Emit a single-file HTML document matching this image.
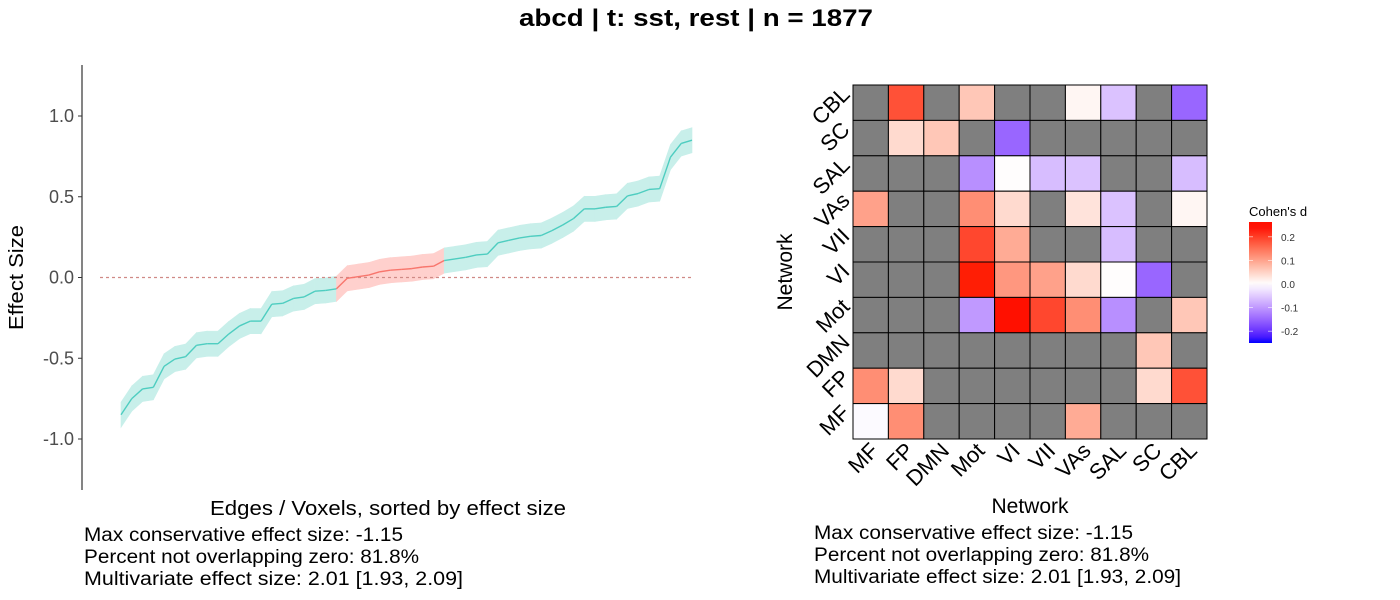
<!DOCTYPE html>
<html><head><meta charset="utf-8"><style>
body{margin:0;background:#fff}
svg{display:block;font-family:"Liberation Sans",sans-serif}
</style></head><body>
<svg id="s" width="1400" height="600" viewBox="0 0 1400 600">
<text x="519" y="26" font-size="24" font-weight="bold" textLength="354" lengthAdjust="spacingAndGlyphs">abcd | t: sst, rest | n = 1877</text>
<g id="lineplot"></g>
<g id="heat"></g>
</svg>
<script>
const effectValues=[-0.85,-0.75,-0.69,-0.68,-0.55,-0.505,-0.49,-0.42,-0.41,-0.41,-0.35,-0.30,-0.27,-0.27,-0.165,-0.16,-0.13,-0.12,-0.085,-0.08,-0.07,-0.005,0.005,0.015,0.035,0.045,0.05,0.055,0.065,0.07,0.105,0.115,0.125,0.14,0.145,0.215,0.23,0.245,0.255,0.26,0.29,0.325,0.365,0.425,0.425,0.435,0.44,0.505,0.52,0.545,0.55,0.745,0.83,0.85];
const ciHalfWidth=0.078;
const yTicks=[1.0,0.5,0.0,-0.5,-1.0];
const yTickLabels=["1.0","0.5","0.0","-0.5","-1.0"];
const networks=["MF","FP","DMN","Mot","VI","VII","VAs","SAL","SC","CBL"];
const rowCBL=[null,0.18,null,0.06,null,null,0.01,-0.06,null,-0.15];
const rowSC=[null,0.04,0.06,null,-0.15,null,null,null,null,null];
const rowSAL=[null,null,null,-0.11,0.002,-0.065,-0.06,null,null,-0.065];
const rowVAs=[0.1,null,null,0.12,0.04,null,0.03,-0.06,null,0.01];
const rowVII=[null,null,null,0.19,0.09,null,null,-0.065,null,null];
const rowVI=[null,null,null,0.24,0.11,0.10,0.04,0.002,-0.15,null];
const rowMot=[null,null,null,-0.1,0.25,0.19,0.12,-0.11,null,0.06];
const rowDMN=[null,null,null,null,null,null,null,null,0.06,null];
const rowFP=[0.12,0.04,null,null,null,null,null,null,0.04,0.18];
const rowMF=[-0.005,0.12,null,null,null,null,0.09,null,null,null];
const legendTicks=[0.2,0.1,0.0,-0.1,-0.2];
const legendLabels=["0.2","0.1","0.0","-0.1","-0.2"];
const statLines=["Max conservative effect size: -1.15","Percent not overlapping zero: 81.8%","Multivariate effect size: 2.01 [1.93, 2.09]"];
const statWidthsLeft=[319,335,379];
const statWidthsRight=[319,335,367];

const NS="http://www.w3.org/2000/svg";
function mk(tag,attrs,parent,txt){const e=document.createElementNS(NS,tag);for(const k in attrs)e.setAttribute(k,attrs[k]);if(txt!==undefined)e.textContent=txt;parent.appendChild(e);return e;}

const L=document.getElementById('lineplot');
const yS=v=>277.5-v*161.5;
const xS=i=>121+i*(571/(effectValues.length-1));
let e;
e=mk('line',{x1:82,y1:65,x2:82,y2:490,stroke:'#333','stroke-width':1.2},L);

yTicks.forEach((t,i)=>{
 e=mk('line',{x1:78,x2:82,y1:yS(t),y2:yS(t),stroke:'#333','stroke-width':1},L);
 
 e=mk('text',{x:74,y:yS(t)+6,'text-anchor':'end','font-size':18,fill:'#4d4d4d'},L,yTickLabels[i]);
 
});
e=mk('text',{x:0,y:0,transform:'translate(23,330) rotate(-90)','font-size':20,textLength:105,lengthAdjust:'spacingAndGlyphs'},L,'Effect Size');

e=mk('text',{x:210,y:515,'font-size':20,textLength:356,lengthAdjust:'spacingAndGlyphs'},L,'Edges / Voxels, sorted by effect size');

const sig=effectValues.map(v=>(v-ciHalfWidth>0)||(v+ciHalfWidth<0));
for(let i=0;i<effectValues.length-1;i++){
 const red=!sig[i];
 const fill=red?'#ffd0cd':'#c8efea';
 const a=effectValues[i],b=effectValues[i+1];
 e=mk('polygon',{points:`${xS(i)},${yS(a+ciHalfWidth)} ${xS(i+1)},${yS(b+ciHalfWidth)} ${xS(i+1)},${yS(b-ciHalfWidth)} ${xS(i)},${yS(a-ciHalfWidth)}`,fill:fill,stroke:fill,'stroke-width':0.6},L);
 
}
e=mk('line',{x1:100,x2:692,y1:yS(0),y2:yS(0),stroke:'#d08a86','stroke-width':1.3,'stroke-dasharray':'3,3'},L);

for(let i=0;i<effectValues.length-1;i++){
 const red=!sig[i];
 e=mk('line',{x1:xS(i),y1:yS(effectValues[i]),x2:xS(i+1),y2:yS(effectValues[i+1]),stroke:red?'#f8766d':'#4ecdc0','stroke-width':1.4},L);
 
}
statLines.forEach((s,i)=>{e=mk('text',{x:84,y:541+i*22,'font-size':19,textLength:statWidthsLeft[i],lengthAdjust:'spacingAndGlyphs'},L,s);});

const H=document.getElementById('heat');
const rows=[rowCBL,rowSC,rowSAL,rowVAs,rowVII,rowVI,rowMot,rowDMN,rowFP,rowMF];
const rowNames=networks.slice().reverse();
const gx0=853,gy0=85,cw=35.4,ch=35.4;
function col(v){
 if(v===null)return '#7f7f7f';
 let t=Math.max(-1,Math.min(1,v/0.25));
 if(t>=0){return `rgb(255,${Math.round(255*Math.pow(1-t,0.9)+(t>0.95?16:0))},${Math.round(255*Math.pow(1-t,1.2))})`;}
 t=-t;return `rgb(${Math.round(255*Math.pow(1-t,0.56))},${Math.round(255*(1-t))},255)`;
}
rows.forEach((r,ri)=>r.forEach((v,ci)=>{
 e=mk('rect',{x:gx0+ci*cw,y:gy0+ri*ch,width:cw,height:ch,fill:col(v),stroke:'#000','stroke-width':1},H);
 
}));
networks.forEach((n,i)=>{
 const cx=gx0+(i+0.5)*cw+9;
 e=mk('text',{x:0,y:0,transform:`translate(${cx},452) rotate(-45)`,'text-anchor':'end','font-size':22},H,n);
 
});
rowNames.forEach((n,i)=>{
 const cy=gy0+(i+0.5)*ch-7;
 e=mk('text',{x:0,y:0,transform:`translate(851,${cy}) rotate(-45)`,'text-anchor':'end','font-size':22},H,n);
 
});
e=mk('text',{x:1030,y:513,'text-anchor':'middle','font-size':21},H,'Network');

e=mk('text',{x:0,y:0,transform:'translate(792,272) rotate(-90)','text-anchor':'middle','font-size':21},H,'Network');

e=mk('text',{x:1249,y:216,'font-size':13},H,"Cohen's d");

const defs=mk('defs',{},H);
const gr=mk('linearGradient',{id:'cg',x1:0,y1:0,x2:0,y2:1},defs);
for(let k=0;k<=20;k++){const v=0.26-k*(0.51/20);mk('stop',{offset:k/20,'stop-color':col(v)},gr);}
e=mk('rect',{x:1249,y:222,width:23,height:121,fill:'url(#cg)'},H);

const lY=v=>284-v*236;
legendTicks.forEach((t,i)=>{
 mk('line',{x1:1249,x2:1253,y1:lY(t),y2:lY(t),stroke:'#fff','stroke-width':0.8,opacity:0.7},H);
 mk('line',{x1:1268,x2:1272,y1:lY(t),y2:lY(t),stroke:'#fff','stroke-width':0.8,opacity:0.7},H);
 e=mk('text',{x:1281,y:lY(t)+4,'font-size':10,fill:'#333'},H,legendLabels[i]);
 
});
statLines.forEach((s,i)=>{e=mk('text',{x:814,y:539+i*22,'font-size':19,textLength:statWidthsRight[i],lengthAdjust:'spacingAndGlyphs'},H,s);});
</script>
</body></html>
